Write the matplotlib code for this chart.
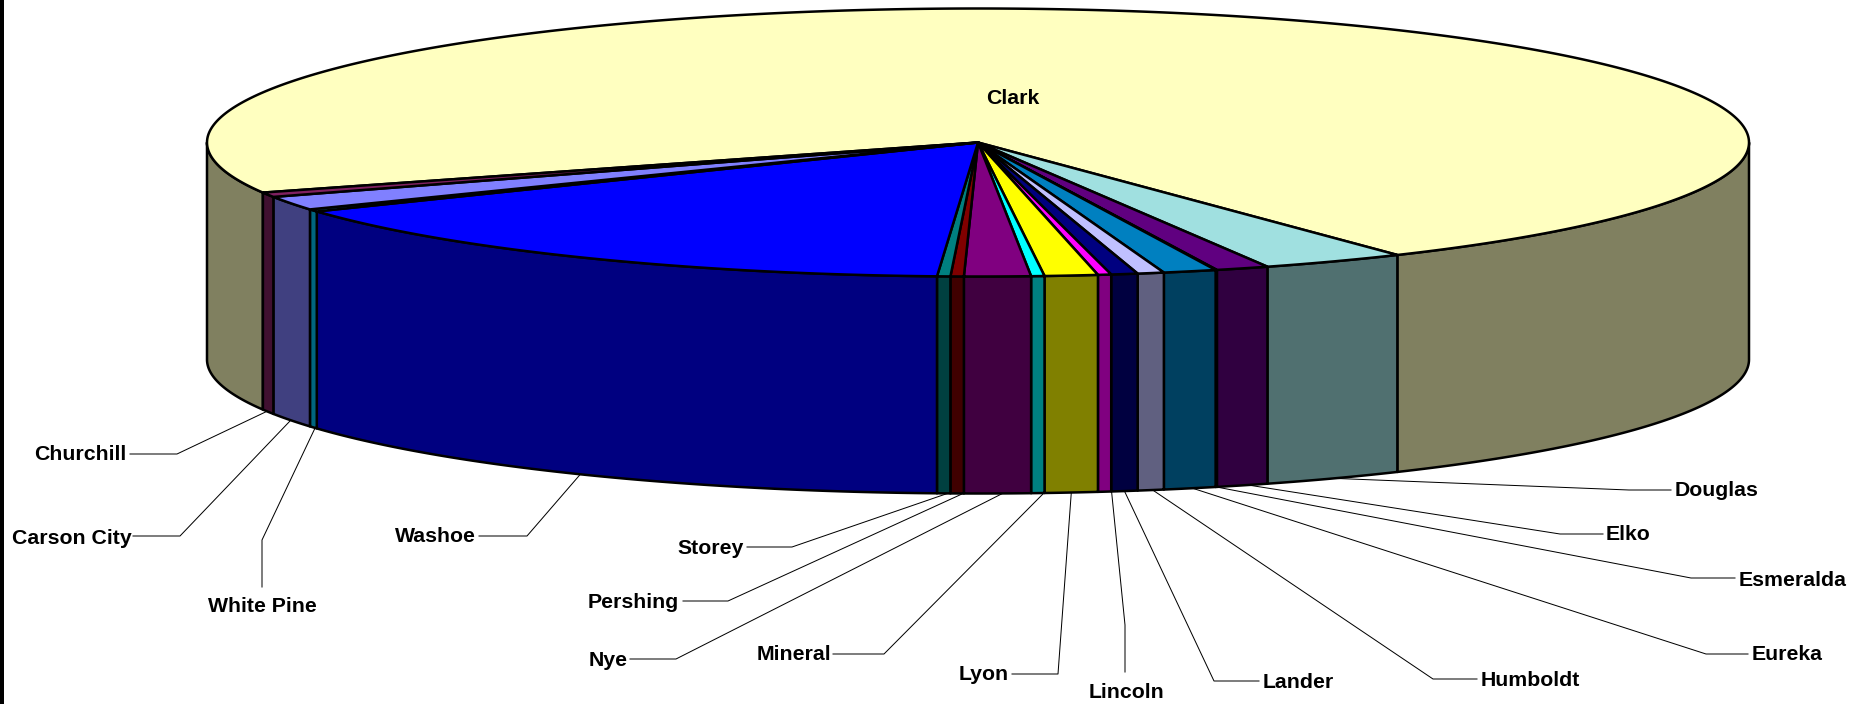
import numpy as np
import matplotlib
matplotlib.use("Agg")
import matplotlib.pyplot as plt

plt.rcParams['font.family'] = ['Liberation Sans', 'DejaVu Sans']

# Slices in clockwise order, starting at Clark
counties = ['Clark', 'Douglas', 'Elko', 'Esmeralda', 'Eureka', 'Humboldt', 'Lander', 'Lincoln', 'Lyon',
            'Mineral', 'Nye', 'Pershing', 'Storey', 'Washoe', 'White Pine', 'Carson City', 'Churchill']
shares = [259, 10.9, 4, 0.1, 4, 2, 2, 1, 4, 1, 5, 1, 1, 56, 1, 6, 2]
top_colors = ['#FFFFC0', '#A0E0E0', '#600080', '#FF8080', '#0080C0', '#C0C0FF', '#000080', '#FF00FF', '#FFFF00',
              '#00FFFF', '#800080', '#800000', '#008080', '#0000FF', '#00CCFF', '#8080FF', '#802060']

# Pie geometry, in pixels of the final image
cx, cy = 978, 142.5
rx, ry = 771, 134
depth = 217
start_angle = 248.05  # clockwise from 12 o'clock

# Label placement: elbow of the leader, end of the leader, text anchor
label_layout = {
    'Douglas': ((1629, 490), (1671, 490), (1675, 489, 'left')),
    'Elko': ((1560, 534), (1603, 534), (1606, 533, 'left')),
    'Esmeralda': ((1691, 578), (1735, 578), (1739, 578, 'left')),
    'Eureka': ((1706, 654), (1748, 654), (1752, 653, 'left')),
    'Humboldt': ((1433, 679), (1477, 679), (1481, 678, 'left')),
    'Lander': ((1214, 681), (1259, 681), (1263, 680, 'left')),
    'Lincoln': ((1125, 625), (1125, 672), (1126, 690, 'center')),
    'Lyon': ((1058, 674), (1012, 674), (1009, 673, 'right')),
    'Mineral': ((884, 654), (833, 654), (831, 653, 'right')),
    'Nye': ((676, 659), (630, 659), (628, 658, 'right')),
    'Pershing': ((728, 601), (683, 601), (679, 600, 'right')),
    'Storey': ((792, 547), (747, 547), (744, 546, 'right')),
    'Washoe': ((527, 536), (479, 536), (476, 535, 'right')),
    'White Pine': ((262, 540), (262, 587), (262, 605, 'center')),
    'Carson City': ((180, 536), (133, 536), (132, 536, 'right')),
    'Churchill': ((177, 454), (130, 454), (126, 453, 'right')),
}

# The leaders leave the rim a few pixels right of the slice middle
leader_shift = {'Storey': 4, 'Pershing': 6, 'Nye': 5, 'Mineral': 6, 'Lincoln': 7, 'Humboldt': 2,
                'Eureka': 3, 'Elko': 8, 'White Pine': 2, 'Churchill': -2}


def rim(angle, drop=0):
    rad = np.radians(angle)
    return cx + rx * np.sin(rad), cy - ry * np.cos(rad) + drop


def darker(color):
    return tuple(c / 2 for c in matplotlib.colors.to_rgb(color))


fig = plt.figure(figsize=(18.72, 7.04), dpi=100)
ax = fig.add_axes([0, 0, 1, 1])
ax.set_xlim(0, 1872)
ax.set_ylim(704, 0)
ax.axis('off')

# Black bar on the left edge of the image
ax.fill_between([0, 3.5], 0, 704, color='black', lw=0)

edges = start_angle + np.cumsum([0] + shares) * 360 / sum(shares)

for name, color, a, b in zip(counties, top_colors, edges[:-1], edges[1:]):
    # Outer wall, only the part that faces the viewer
    for offset in (0, 360):
        lo, hi = max(a, 90 + offset), min(b, 270 + offset)
        if hi <= lo:
            continue
        t = np.linspace(lo, hi, 200)
        xs, ys = rim(t)
        xb, yb = rim(t, depth)
        ax.fill(np.r_[xs, xb[::-1]], np.r_[ys, yb[::-1]], facecolor=darker(color),
                edgecolor='black', lw=1.8, joinstyle='round', zorder=3)

    # Top face
    t = np.linspace(a, b, 400)
    xs, ys = rim(t)
    ax.fill(np.r_[cx, xs], np.r_[cy, ys], facecolor=color, edgecolor='black', lw=1.8,
            joinstyle='round', zorder=4)

    if name == 'Clark':
        ax.text(1013, 97, name, fontsize=15.3, fontweight='bold', ha='center', va='center_baseline', zorder=6)
        continue

    # Leader from the bottom rim, out to the label
    elbow, end, (tx, ty, align) = label_layout[name]
    sx, sy = rim((a + b) / 2, depth)
    sx += leader_shift.get(name, 0)
    ax.plot([sx, elbow[0], end[0]], [sy, elbow[1], end[1]], color='black', lw=0.72, zorder=2)
    ax.text(tx, ty, name, fontsize=15.3, fontweight='bold', ha=align, va='center_baseline', zorder=6)

plt.savefig("out.png", dpi=100)
